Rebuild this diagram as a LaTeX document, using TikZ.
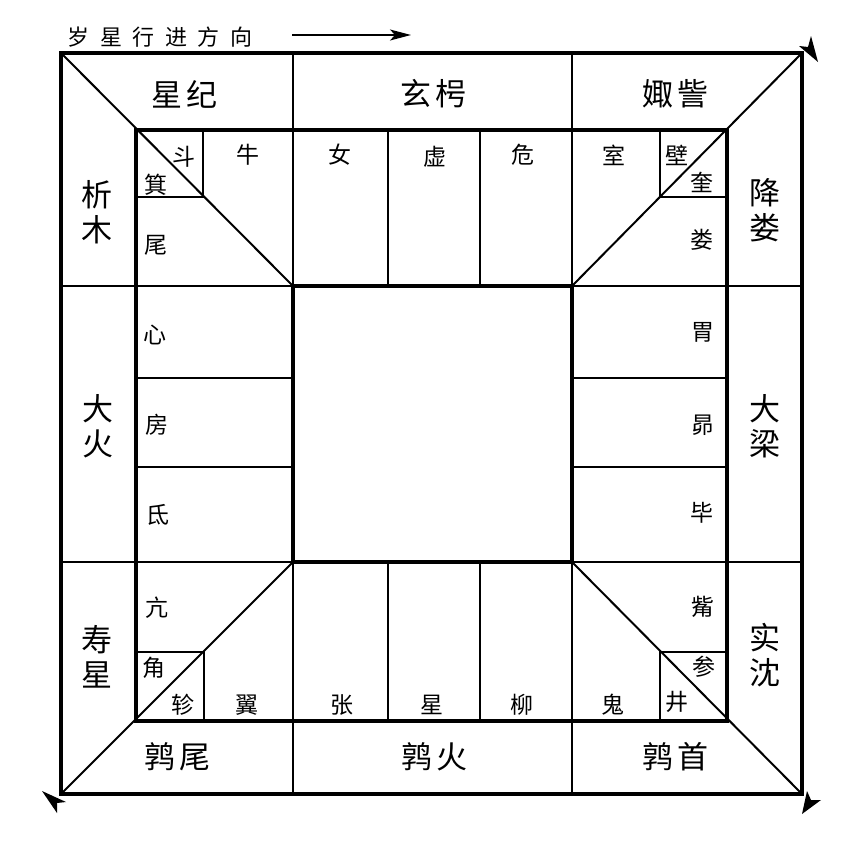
\documentclass[tikz,border=0pt]{standalone}
\usepackage{fontspec}
\newfontfamily\cjk{Noto Sans CJK SC}
\usetikzlibrary{arrows.meta}
\begin{document}
\begin{tikzpicture}[x=1pt,y=-1pt,
  thickline/.style={line width=3.2pt, line join=miter},
  thinline/.style={line width=2pt},
  big/.style={font=\cjk\fontsize{31}{35}\selectfont, inner sep=0pt, align=center},
  small/.style={font=\cjk\fontsize{23}{26}\selectfont, inner sep=0pt},
  headtext/.style={font=\cjk\fontsize{22}{26}\selectfont, inner sep=0pt},
  headarrow/.style={line width=1.6pt, -{Stealth[length=21pt,width=11pt,inset=5pt]}},
  tiphead/.style={fill=black}]
\useasboundingbox (0,0) rectangle (862,862);

% thin structural lines
\draw[thinline] (293,53) -- (293,286);
\draw[thinline] (572,53) -- (572,286);
\draw[thinline] (293,562) -- (293,794);
\draw[thinline] (572,562) -- (572,794);
\draw[thinline] (61,286) -- (293,286);
\draw[thinline] (61,562) -- (293,562);
\draw[thinline] (572,286) -- (802,286);
\draw[thinline] (572,562) -- (802,562);
% inner dividers
\draw[thinline] (388,130) -- (388,286);
\draw[thinline] (480,130) -- (480,286);
\draw[thinline] (388,562) -- (388,721);
\draw[thinline] (480,562) -- (480,721);
\draw[thinline] (136,378) -- (293,378);
\draw[thinline] (136,467) -- (293,467);
\draw[thinline] (572,378) -- (727,378);
\draw[thinline] (572,467) -- (727,467);
% small squares
\draw[thinline] (203,130) -- (203,197) -- (136,197);
\draw[thinline] (660,130) -- (660,197) -- (727,197);
\draw[thinline] (136,652) -- (204,652) -- (204,721);
\draw[thinline] (727,652) -- (660,652) -- (660,721);
% diagonals
\draw[thinline] (61,53) -- (293,286);
\draw[thinline] (802,53) -- (572,286);
\draw[thinline] (61,794) -- (293,562);
\draw[thinline] (802,794) -- (572,562);
% thick squares
\draw[thickline] (61,53) rectangle (802,794);
\draw[thickline] (136,130) rectangle (727,721);
\draw[thickline] (293,286) rectangle (572,562);

% corner arrowheads
\fill[tiphead] (818,62) -- (799,46) -- (808,47) -- (811,36) -- cycle;
\fill[tiphead] (802,814) -- (807,791) -- (811,800) -- (821,800) -- cycle;
\fill[tiphead] (42,791) -- (66,802) -- (57,803) -- (57,813) -- cycle;

% header
\node[headtext] (head) at (160,37) {岁\kern10.5pt 星\kern10.5pt 行\kern10.5pt 进\kern10.5pt 方\kern10.5pt 向};
\coordinate (hs) at (292,35);
\coordinate (he) at (411,35);
\draw[headarrow] (hs) -- (he);

% big labels
\node[big] (xj) at (184,94) {星\kern4pt 纪};
\node[big] (xx) at (433,94) {玄\kern4pt 枵};
\node[big] (jz) at (675,94) {娵\kern4pt 訾};
\node[big] (xm) at (97,212) {析\\木};
\node[big] (jl) at (765,210) {降\\娄};
\node[big] (dh) at (98,426) {大\\火};
\node[big] (dl) at (765,426) {大\\梁};
\node[big] (ss) at (97,657) {寿\\星};
\node[big] (sc) at (765,655) {实\\沈};
\node[big] (cw) at (177,757) {鹑\kern4pt 尾};
\node[big] (ch) at (434,757) {鹑\kern4pt 火};
\node[big] (cs) at (675,757) {鹑\kern4pt 首};

% small labels
\node[small] (dou) at (184,157) {斗};
\node[small] (ji) at (156,185) {箕};
\node[small] (niu) at (248,155) {牛};
\node[small] (nv) at (340,155) {女};
\node[small] (xu) at (435,157) {虚};
\node[small] (wei) at (523,155) {危};
\node[small] (shi) at (614,155) {室};
\node[small] (bi) at (677,155) {壁};
\node[small] (kui) at (702,182) {奎};
\node[small] (lou) at (702,240) {娄};
\node[small] (weis) at (156,245) {尾};
\node[small] (xin) at (155,335) {心};
\node[small] (fang) at (157,425) {房};
\node[small] (di) at (158,515) {氐};
\node[small] (weist) at (703,332) {胃};
\node[small] (mao) at (703,425) {昴};
\node[small] (bis) at (702,513) {毕};
\node[small] (kang) at (157,608) {亢};
\node[small] (jiao) at (154,668) {角};
\node[small] (zhen) at (183,705) {轸};
\node[small] (yi) at (247,705) {翼};
\node[small] (zhang) at (342,705) {张};
\node[small] (xing) at (432,705) {星};
\node[small] (liu) at (522,705) {柳};
\node[small] (gui) at (613,705) {鬼};
\node[small] (jing) at (677,702) {井};
\node[small] (shen) at (704,667) {参};
\node[small] (zi) at (703,607) {觜};
\end{tikzpicture}
\end{document}
